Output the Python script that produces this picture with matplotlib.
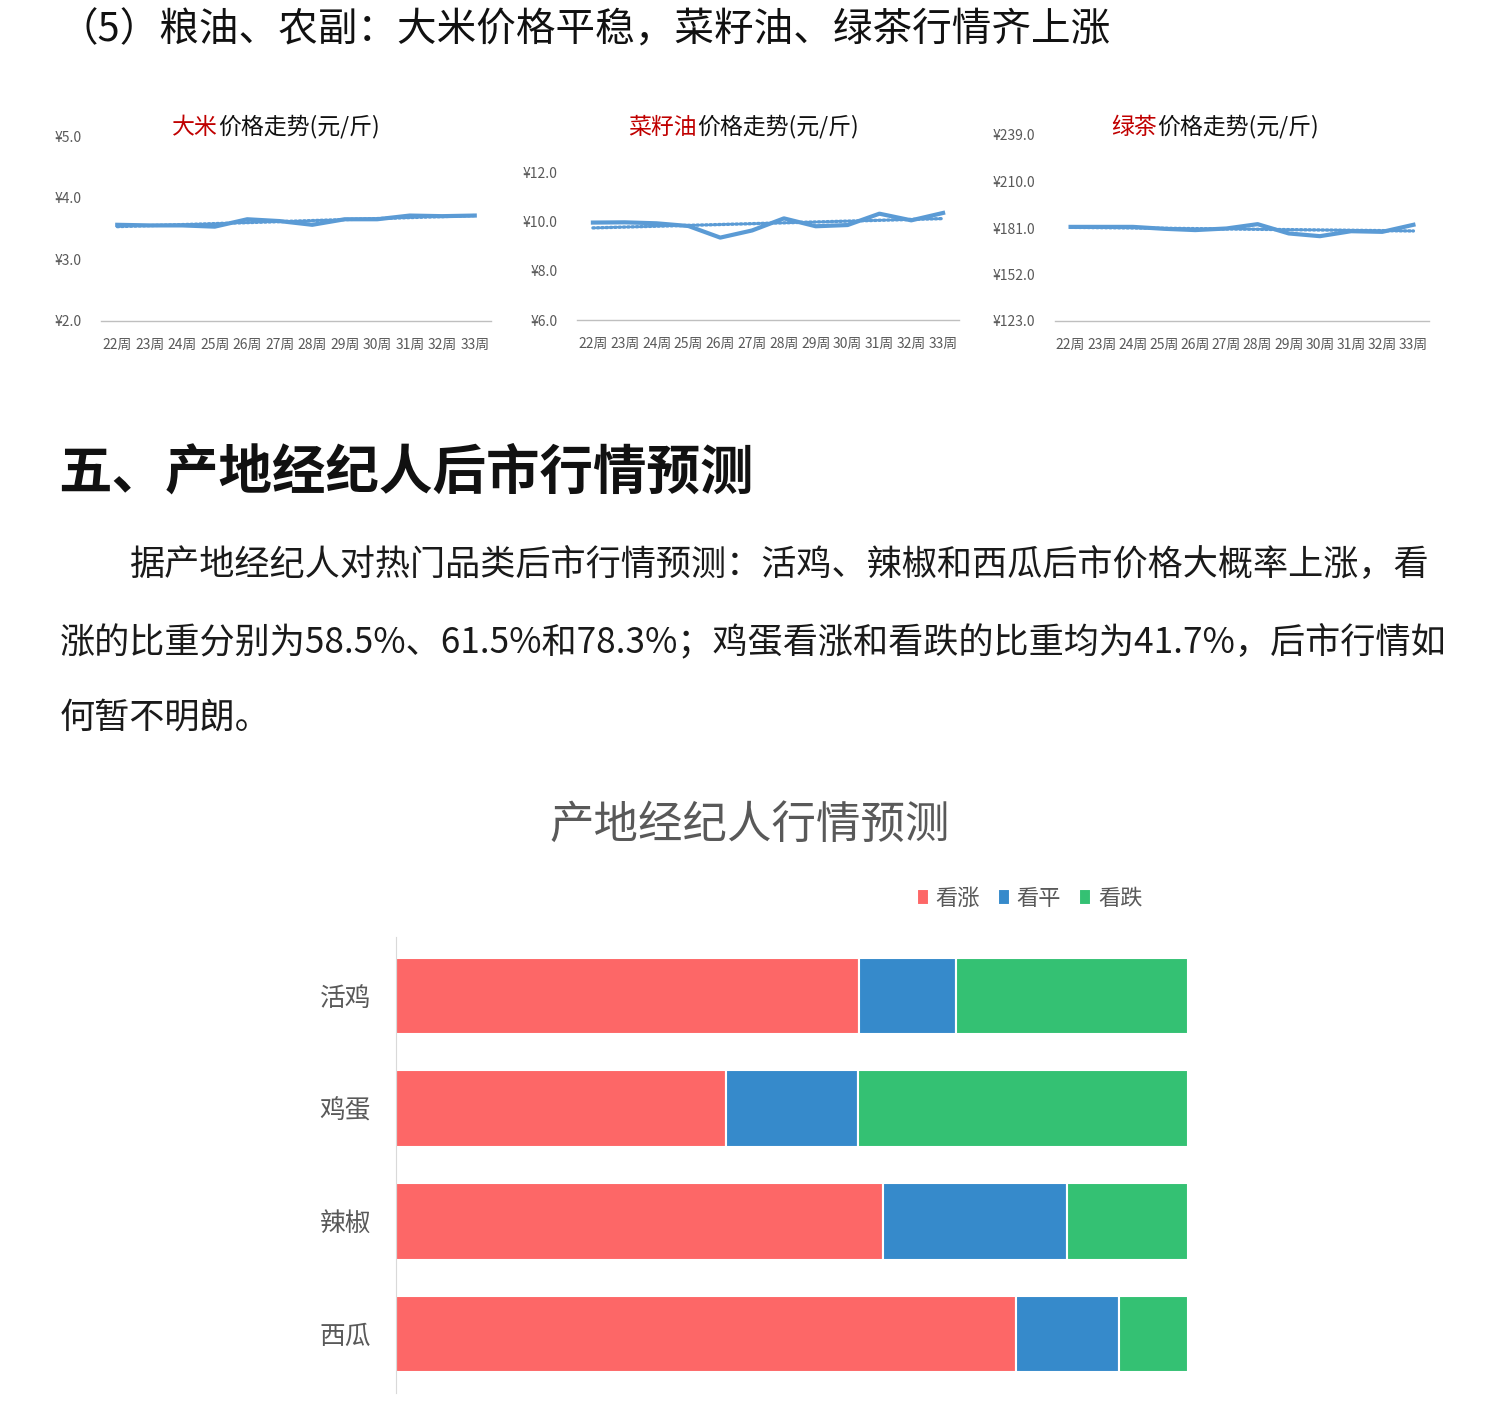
import numpy as np
import matplotlib
matplotlib.use("Agg")
import matplotlib.pyplot as plt

plt.rcParams['font.family'] = ['Noto Sans CJK SC', 'DejaVu Sans']

W, H = 1500, 1411

# ---- data ----
weeks = ['22周', '23周', '24周', '25周', '26周', '27周', '28周', '29周', '30周', '31周', '32周', '33周']
rice = [3.56, 3.55, 3.55, 3.53, 3.65, 3.62, 3.56, 3.65, 3.65, 3.71, 3.70, 3.71]
rapeseed_oil = [9.95, 9.96, 9.92, 9.81, 9.34, 9.63, 10.12, 9.80, 9.85, 10.31, 10.04, 10.34]
green_tea = [181.7, 181.7, 181.7, 180.5, 179.7, 180.7, 183.4, 177.6, 175.9, 179.0, 178.6, 183.0]
rice_ticks = [2.0, 3.0, 4.0, 5.0]
oil_ticks = [6.0, 8.0, 10.0, 12.0]
tea_ticks = [123.0, 152.0, 181.0, 210.0, 239.0]

products = ['活鸡', '鸡蛋', '辣椒', '西瓜']
up = [58.5, 41.7, 61.5, 78.3]
flat = [12.2, 16.6, 23.2, 13.0]
down = [29.3, 41.7, 15.3, 8.7]
legend_names = ['看涨', '看平', '看跌']

line_color = '#5b9bd5'
gray_txt = '#595959'


def px_axes(fig, left, top, right, bottom):
    return fig.add_axes([left / W, 1 - bottom / H, (right - left) / W, (bottom - top) / H])


def ftext(fig, x, y, s, **kw):
    return fig.text(x / W, 1 - y / H, s, **kw)


fig = plt.figure(figsize=(W / 100, H / 100), dpi=100)
fig.patch.set_facecolor('white')

# ---- headings and paragraph ----
ftext(fig, 58, 30, '（5）粮油、农副：大米价格平稳，菜籽油、绿茶行情齐上涨',
      fontsize=28.5, color='#111111', va='center', ha='left')
ftext(fig, 58, 473, '五、产地经纪人后市行情预测', fontsize=38.5, fontweight='bold',
      color='#111111', va='center', ha='left')
body = [
    (130, 565, '据产地经纪人对热门品类后市行情预测：活鸡、辣椒和西瓜后市价格大概率上涨，看'),
    (60, 642, '涨的比重分别为58.5%、61.5%和78.3%；鸡蛋看涨和看跌的比重均为41.7%，后市行情如'),
    (60, 718, '何暂不明朗。'),
]
for x, y, s in body:
    ftext(fig, x, y, s, fontsize=25.3, color='#1a1a1a', va='center', ha='left')

# ---- three small line charts ----
line_charts = [
    (rice, rice_ticks, (101, 136, 491, 321), '大米', 218),
    (rapeseed_oil, oil_ticks, (577, 172, 959, 320), '菜籽油', 697),
    (green_tea, tea_ticks, (1055, 135, 1429, 321), '绿茶', 1157),
]
x = np.arange(len(weeks))
for values, ticks, box, name, split in line_charts:
    ax = px_axes(fig, *box)
    coef = np.polyfit(x, values, 1)
    ax.plot(x, np.polyval(coef, x), color=line_color, lw=2.4, ls=(0, (0.5, 0.8)),
            dash_capstyle='round')
    ax.plot(x, values, color=line_color, lw=3.0, solid_joinstyle='round')
    ax.set_xlim(-0.5, len(weeks) - 0.5)
    ax.set_ylim(ticks[0], ticks[-1])
    ax.set_yticks(ticks)
    ax.set_yticklabels(['¥{:.1f}'.format(t) for t in ticks])
    ax.set_xticks(x)
    ax.set_xticklabels(weeks)
    ax.tick_params(axis='y', length=0, pad=14, labelsize=10, labelcolor=gray_txt)
    ax.tick_params(axis='x', length=0, pad=12, labelsize=10, labelcolor=gray_txt)
    for side in ['top', 'right', 'left']:
        ax.spines[side].set_visible(False)
    ax.spines['bottom'].set_color('#bfbfbf')
    ax.spines['bottom'].set_linewidth(1)
    ax.patch.set_alpha(0)
    ftext(fig, split, 127, name, fontsize=16.5, color='#c00000', ha='right', va='center')
    ftext(fig, split, 127, '价格走势(元/斤)', fontsize=16.5, color='#111111', ha='left', va='center')

# ---- stacked bar chart ----
ftext(fig, 750, 825, '产地经纪人行情预测', fontsize=32, color=gray_txt, ha='center', va='center')
bx = px_axes(fig, 396, 937, 1188, 1393)
colors = ['#fd6767', '#368acb', '#34c173']
left = np.zeros(len(products))
for vals, name, c in zip([up, flat, down], legend_names, colors):
    bx.barh(products, vals, left=left, height=0.68, color=c, edgecolor='white',
            linewidth=1.5, label=name)
    left += np.array(vals)
bx.invert_yaxis()
bx.set_xlim(0, 100)
bx.set_xticks([])
bx.tick_params(axis='y', length=0, pad=18, labelsize=18.5, labelcolor=gray_txt)
for side in ['top', 'right', 'bottom']:
    bx.spines[side].set_visible(False)
bx.spines['left'].set_color('#d9d9d9')
bx.legend(loc='center', bbox_to_anchor=(0.80, 1.085), ncol=3, frameon=False,
          handlelength=0.55, handleheight=0.75, handletextpad=0.3, columnspacing=0.8,
          fontsize=16, labelcolor=gray_txt)

fig.savefig('out.png', dpi=100, facecolor='white')
